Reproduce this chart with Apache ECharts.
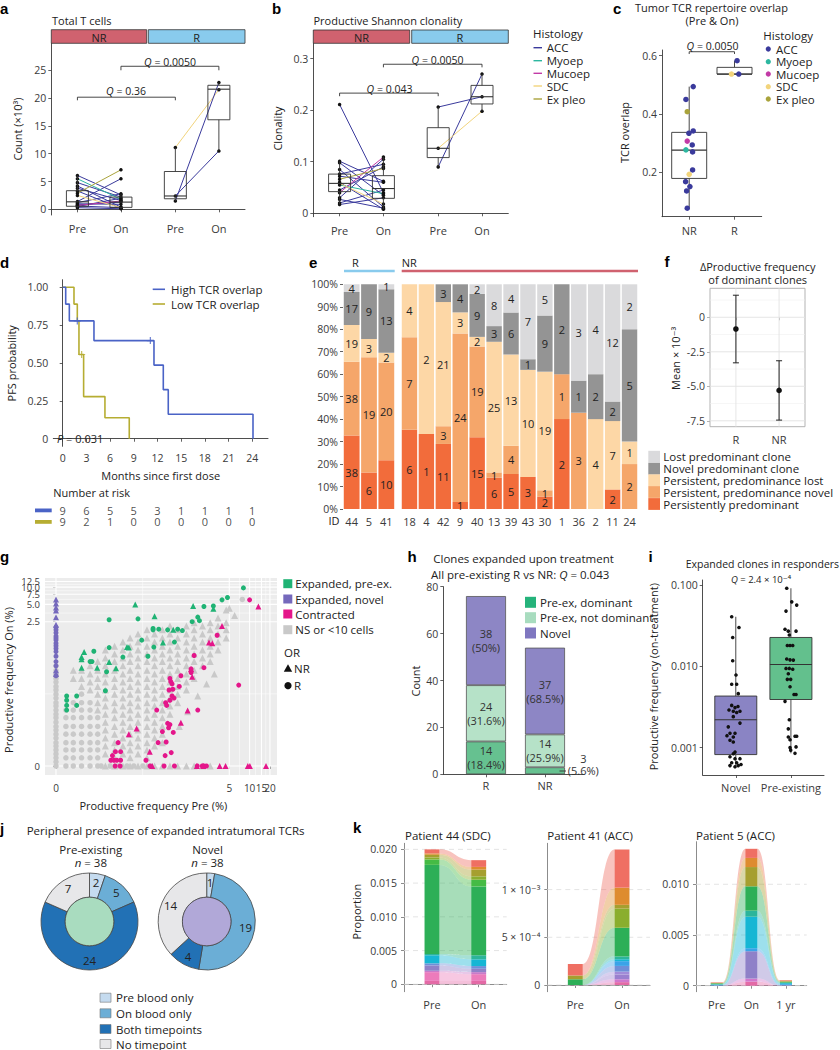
<!DOCTYPE html>
<html>
<head>
<meta charset="utf-8">
<title>Tumor TCR repertoire figure</title>
<script src="https://cdn.jsdelivr.net/npm/echarts@6.0.0/dist/echarts.min.js"></script>
<style>
html,body{margin:0;padding:0;background:#fff;}
#chart{width:840px;height:1050px;}
</style>
</head>
<body>
<div id="chart"></div>
<script>
// ======================= DATA =======================
const histologyNames = ['ACC', 'Myoep', 'Mucoep', 'SDC', 'Ex pleo'];

// --- a: Total T cells (count x10^3), pairs [histology, Pre, On]
const aTimepoints = ['Pre', 'On', 'Pre', 'On'];
const aTickValues = [0, 5, 10, 15, 20, 25];
const aPairsNR = [['ACC',6.1,2.6],['ACC',4.8,2.2],['ACC',4.2,0.4],['ACC',3.8,1.6],['ACC',3.3,0.2],['ACC',1.4,5.5],['ACC',1.2,2.8],['ACC',1.0,0.9],['ACC',0.8,1.3],['ACC',0.6,0.3],['ACC',0.5,2.0],['ACC',0.3,0.1],['Myoep',5.5,1.8],['Mucoep',0.7,1.5],['SDC',2.5,0.3],['Ex pleo',2.9,7.1]];
const aPairsR = [['SDC',11.1,21.5],['ACC',1.5,22.8],['ACC',2.4,10.5]];
const aBoxPreNR = [0.3,0.55,1.35,3.35,6.1];
const aBoxOnNR = [0.1,0.35,1.3,2.2,2.8];
const aBoxPreR = [1.5,1.9,2.4,6.8,11.1];
const aBoxOnR = [10.5,16.1,21.6,22.3,22.8];
const aQ = ['0.36', '0.0050'];

// --- b: Productive Shannon clonality
const bTickValues = [0, 0.1, 0.2, 0.3];
const bPairsNR = [['ACC',0.211,0.040],['ACC',0.101,0.062],['ACC',0.098,0.035],['ACC',0.085,0.012],['ACC',0.076,0.095],['ACC',0.072,0.060],['ACC',0.060,0.008],['ACC',0.045,0.090],['ACC',0.030,0.105],['ACC',0.027,0.010],['ACC',0.020,0.045],['ACC',0.017,0.030],['Myoep',0.055,0.038],['Mucoep',0.040,0.109],['SDC',0.058,0.018],['Ex pleo',0.066,0.087]];
const bPairsR = [['ACC',0.206,0.226],['ACC',0.090,0.270],['SDC',0.126,0.198]];
const bBoxPreNR = [0.017,0.042,0.058,0.076,0.101];
const bBoxOnNR = [0.008,0.029,0.048,0.073,0.109];
const bBoxPreR = [0.090,0.108,0.126,0.166,0.206];
const bBoxOnR = [0.198,0.212,0.226,0.248,0.270];
const bQ = ['0.043', '0.0050'];

// --- c: Tumor TCR repertoire overlap [group position incl. jitter, overlap, histology]
const cGroups = ['NR', 'R'];
const cTickValues = [0.2, 0.4, 0.6];
const cPoints = [[1.089,0.494,'ACC'],[0.928,0.450,'ACC'],[0.957,0.408,'Ex pleo'],[1.089,0.342,'ACC'],[0.994,0.334,'ACC'],[0.957,0.307,'Mucoep'],[1.067,0.294,'ACC'],[0.928,0.277,'Myoep'],[1.075,0.270,'ACC'],[1.075,0.208,'ACC'],[1.0,0.193,'SDC'],[0.921,0.168,'ACC'],[1.016,0.151,'ACC'],[0.943,0.136,'ACC'],[0.957,0.077,'ACC'],[2.057,0.583,'ACC'],[1.933,0.537,'SDC'],[2.094,0.537,'ACC']];
const cBoxNR = [0.077,0.179,0.276,0.337,0.494];
const cBoxR = [0.537,0.537,0.537,0.560,0.583];
const cQ = '0.0050';

// --- d: Kaplan-Meier PFS
const dTimes = [0,3,6,9,12,15,18,21,24];
const dHigh = [[0,1],[0.38,0.889],[0.84,0.778],[3.96,0.648],[11.56,0.486],[12.74,0.324],[13.37,0.162],[24.1,0]];
const dLow = [[0,1],[1.43,0.889],[1.85,0.778],[2.06,0.556],[2.65,0.278],[5.35,0.139],[8.43,0]];
const dHighCensor = [[1.85,0.778],[11.1,0.648]];
const dLowCensor = [[2.4,0.556]];
const dRiskHigh = [9,6,5,5,3,1,1,1,1];
const dRiskLow = [9,2,1,0,0,0,0,0,0];
const dYTicks = [0,0.25,0.5,0.75,1];

// --- e: clone categories per patient (counts)
const eNames = ['Persistently predominant','Persistent, predominance novel','Persistent, predominance lost','Novel predominant clone','Lost predominant clone'];
const eIdsR = ['44','5','41'];
const eIdsNR = ['18','4','42','9','40','13','39','43','30','1','36','2','11','24'];
const ePP_R = [38,6,10];  const ePN_R = [38,19,20]; const ePL_R = [19,3,2]; const eNP_R = [17,9,13]; const eLP_R = [4,0,1];
const ePP_NR = [6,1,11,1,15,6,5,3,2,2,0,0,2,0];
const ePN_NR = [7,0,3,24,19,1,4,0,1,1,3,0,0,2];
const ePL_NR = [4,2,21,3,2,25,13,10,19,0,0,4,7,1];
const eNP_NR = [0,0,3,4,9,3,6,1,9,2,1,2,2,5];
const eLP_NR = [0,0,0,0,2,8,4,7,5,0,3,4,12,2];

// --- f: delta productive frequency of dominant clones (mean x10^-3)
const fGroups = ['R','NR'];
const fMean = [-0.85,-5.3];
const fLow = [-3.3,-7.45];
const fHigh = [1.6,-3.15];
const fTicks = [-7.5,-5,-2.5,0];

// --- g: productive frequency Pre vs On (%)
const gXTicks = [0,5,10,15,20];
const gYTicks = [0,2.5,5,7.5,10,12.5];
const gGrayNRCols = [[0.011,[0.25,0.35]],[0.019,[0.18,0.25,0.35]],[0.03,[0.155,0.216,0.3,0.42]],
 [0.043,[0.065,0.09,0.13,0.18,0.25,0.35,0.5]],
 [0.06,[0.0048,0.0095,0.016,0.025,0.037,0.054,0.078,0.11,0.155,0.216,0.3,0.42,0.58,0.8]],
 [0.087,[0.003,0.007,0.012,0.02,0.03,0.046,0.065,0.09,0.13,0.18,0.25,0.35,0.5,0.68,0.93]],
 [0.12,[0.0048,0.0095,0.016,0.025,0.037,0.054,0.078,0.11,0.155,0.216,0.3,0.42,0.58,0.8,1.1]],
 [0.157,[0.003,0.007,0.012,0.02,0.03,0.046,0.065,0.09,0.13,0.18,0.25,0.35,0.5,0.68,0.93,1.3]],
 [0.21,[0.0048,0.0095,0.016,0.025,0.037,0.054,0.078,0.11,0.155,0.216,0.3,0.42,0.58,0.8,1.1,1.52]],
 [0.29,[0.003,0.007,0.012,0.02,0.03,0.046,0.065,0.09,0.13,0.18,0.25,0.35,0.5,0.68,0.93,1.3,1.8]],
 [0.38,[0.0095,0.016,0.025,0.037,0.054,0.078,0.11,0.155,0.216,0.3,0.42,0.58,0.8,1.1,1.52]],
 [0.5,[0.012,0.02,0.03,0.046,0.065,0.09,0.13,0.18,0.25,0.35,0.5,0.68,0.93,1.3,1.8]],
 [0.65,[0.054,0.078,0.11,0.155,0.216,0.3,0.42,0.58,0.8,1.1,1.52,2.1]],
 [0.85,[0.09,0.13,0.18,0.25,0.35,0.5,0.68,0.93,1.3,1.8]],
 [1.15,[0.155,0.216,0.3,0.42,0.58,0.8,1.1,1.52,2.1]],
 [1.5,[0.25,0.35,0.5,0.68,0.93,1.3,1.8,2.4]],
 [2.0,[0.42,0.58,0.8,1.1,1.52,2.1]],
 [2.6,[0.5,0.68,0.93,1.3,1.8,2.4]],
 [3.4,[0.8,1.1,1.52,2.1,2.9]],
 [4.5,[1.3,1.8,2.4,4.0]],
 [6.0,[3.2]],[5.0,[4.3]],[3.0,[0.3]],[2.3,[0.2]],[1.7,[0.12]],[1.2,[0.06]],[0.9,[0.03]]];
const gGrayNRZero = [0.06,0.087,0.12,0.157,0.21,0.29,0.38,0.5,0.65,0.85,1.15,1.5,2.0,2.6];
const gGrayRCols = [[0,[0,0.0014,0.003,0.0048,0.007,0.0095,0.012,0.016,0.02,0.025,0.03,0.037,0.046,0.054,0.065,0.078,0.09,0.11,0.13,0.155,0.18,0.216,0.25,0.3,0.35,0.42]],
 [0.0055,[0,0.003,0.007,0.012,0.02,0.03,0.046,0.065]],
 [0.011,[0,0.003,0.007,0.012,0.02,0.03,0.046,0.065,0.09]],
 [0.019,[0,0.003,0.007,0.012,0.02,0.03,0.046,0.065,0.09,0.13]],
 [0.03,[0,0.003,0.007,0.012,0.02,0.03,0.046,0.065,0.09]],
 [0.043,[0,0.003,0.007,0.012,0.02,0.03,0.046]],
 [7.8,[6.1]]];
const gGrayRZero = [0.05,0.073,0.1,0.14,0.18,0.25,0.33];
const gGreenR = [[8.1,9.7],[4.7,6.6],[3.9,6.0],[2.9,4.7],[2.1,4.6],[0.07,2.7],[0.21,2.8],[1.4,2.5],[1.7,3.0],[1.8,2.6],[0.36,1.9],[0.36,1.8],[0.44,1.85],[0.6,1.8],[0.85,1.85],[1.0,1.75],[0.76,1.1],[0.37,0.9],[0.24,1.19],[0.07,0.88],[0.12,0.6],[0.30,0.62],[0.036,0.76],[0.03,0.5],[0.033,0.5],[0.063,0.33],[0.06,0.15],[0.006,0.12],[0.006,0.1],[0.006,0.08],[0.006,0.065],[0.014,0.12],[0.014,0.08]];
const gGreenNR = [[2.9,4.2],[1.45,4.7],[0.19,5.0],[0.38,3.1],[0.73,1.8],[0.51,1.08],[0.14,0.9],[0.15,0.88],[0.022,0.74],[0.019,0.6],[0.019,0.55],[0.019,0.39],[0.042,0.39],[0.07,0.49],[0.092,0.38]];
const gPurpleNR = [[0,6.1],[0,5.2],[0,4.4],[0,3.9],[0,3.0],[0,2.2],[0,0.35],[0,0.3]];
const gPurpleR = [[0,2.0],[0,1.8],[0,1.6],[0,1.4],[0,1.3],[0,1.2],[0,1.05],[0,0.95],[0,0.85],[0,0.75],[0,0.62],[0,0.5],[0,0.42],[0,0.28]];
const gPinkR = [[10,6.0],[6.9,0.19],[3.3,1.45],[1.5,0.64],[2.1,0.39],[1.35,0.32],[1.35,0.37],[0.95,0.28],[0.9,0.18],[0.65,0.25],[0.67,0.22],[0.7,0.2],[0.72,0.16],[0.63,0.155],[0.7,0.12],[0.75,0.11],[0.65,0.1],[0.56,0.09],[0.58,0.08],[1.7,0.065],[0.41,0.065],[0.6,0.035],[0.65,0.033],[0.62,0.028],[0.73,0.022],[0.5,0.023],[0.43,0.012],[0.57,0.0125],[0.68,0.0055],[0.1,0.012],[0.09,0.006],[0.11,0.006],[0.08,0.004],[0.075,0.002],[0.085,0.002],[0.095,0.002],[0.11,0.002],[0.28,0.002],[0.55,0.004],[0.089,0],[0.108,0],[0.323,0],[0.53,0],[0.76,0],[1.67,0],[1.98,0],[2.1,0],[2.29,0]];
const gPinkNR = [[13.5,4.6],[3.9,2.1],[2.5,1.08],[2.8,1.05],[1.35,0.37],[1.4,0.27],[1.2,0.064],[0.95,0.036],[0.32,0.006],[0.15,0.02],[0.2,0.027],[0.35,0],[1.65,0],[2.05,0],[3.6,0],[4.4,0],[9.4,0],[10.1,0],[17.5,0]];

// --- h: clones expanded upon treatment
const hGroups = ['R','NR'];
const hPreExDominant = [14,3];
const hPreExNotDominant = [24,14];
const hNovel = [38,37];
const hQ = '0.043';

// --- i: expanded clones in responders [position incl. jitter, frequency]
const iGroups = ['Novel','Pre-existing'];
const iNovel = [[0.926,0.0406],[1.058,0.030],[0.944,0.0226],[0.944,0.0117],[1.004,0.0078],[0.926,0.006],[1.016,0.006],[1.045,0.0046],[0.926,0.0033],[1.04,0.0032],[0.986,0.0031],[1.076,0.0028],[0.955,0.0028],[1.016,0.0027],[0.877,0.0029],[0.955,0.0024],[1.076,0.0020],[0.864,0.0018],[0.895,0.0015],[0.986,0.0015],[0.84,0.0014],[0.955,0.00135],[0.895,0.00123],[0.955,0.00117],[0.986,0.00088],[0.955,0.00084],[0.895,0.00077],[0.986,0.00073],[1.076,0.00073],[0.926,0.00065],[1.016,0.00065],[1.095,0.00062],[1.045,0.0006],[0.895,0.0006],[0.986,0.00058]];
const iPreExisting = [[1.924,0.091],[2.015,0.062],[2.105,0.0565],[1.911,0.0477],[1.893,0.0285],[1.953,0.027],[2.093,0.027],[1.971,0.0242],[1.935,0.018],[1.984,0.018],[2.033,0.018],[1.924,0.0123],[1.984,0.012],[2.044,0.0119],[1.911,0.0094],[1.971,0.0094],[2.033,0.0092],[1.953,0.0081],[1.935,0.0069],[1.996,0.0069],[1.984,0.0056],[2.056,0.0045],[2.093,0.0045],[1.893,0.0037],[1.971,0.0022],[1.953,0.0017],[1.953,0.00135],[2.074,0.00138],[2.105,0.00138],[1.984,0.00125],[1.984,0.001],[2.093,0.00102],[1.996,0.00093],[2.074,0.00085]];
const iBoxNovel = [0.00059,0.00082,0.0022,0.0043,0.0406];
const iBoxPre = [0.00085,0.0039,0.0105,0.0226,0.091];
const iTicks = [0.001,0.01,0.1];

// --- j: peripheral presence
const jCats = ['Pre blood only','On blood only','Both timepoints','No timepoint'];
const jPreExisting = [2,5,24,7];
const jNovel = [1,19,4,14];

// --- k: clone proportions per timepoint, layers bottom -> top
const k44Times = ['Pre','On'];
const k44Layers = [[0.0005,0.0005],[0.0013,0.0010],[0.0002,0.0003],[0.0008,0.0005],[0.0003,0.0004],[0.0012,0.0010],[0.0002,0.0006],[0.0132,0.0102],[0.0008,0.0010],[0.0003,0.0005],[0.0004,0.0010],[0.0002,0.0004],[0.0006,0.0010]];
const k41Times = ['Pre','On'];
const k41Layers = [[0,0.00003],[0,0.00003],[0,0.00005],[0,0.00003],[0,0.00006],[0,0.00005],[0,0.00002],[0,0.00003],[0.00006,0.0003],[0,0.0002],[0.00004,0.00004],[0,0.00018],[0.00012,0.0004]];
const k5Times = ['Pre','On','1 yr'];
const k5Layers = [[0,0.0004,0],[0,0.0003,0],[0.00003,0.0027,0.00005],[0.00005,0.0003,0.0001],[0.00005,0.0031,0.0001],[0.00002,0.0006,0.00005],[0.00008,0.0024,0.0001],[0.00004,0.0019,0.00005],[0.00002,0.0009,0.00005],[0.00004,0.0009,0.00005]];

// ======================= STYLE =======================
const FONT = '"Open Sans", "DejaVu Sans", sans-serif';
const LETTER_FONT = '"Liberation Sans", Arial, sans-serif';
const HIST_COLOR = {'ACC':'#3a3a9c','Myoep':'#2db7a0','Mucoep':'#c23aa6','SDC':'#f2d47c','Ex pleo':'#a9a33b'};
const E_COLORS = ['#f26c3b','#f5a66a','#fdd7a6','#949494','#dadadc'];
const J_COLORS = ['#c5dbef','#6baed6','#2271b5','#e7e7e9'];
const K44_COLORS = ['#e46aa6','#ec7bbb','#c97ac9','#8f81c8','#6e8fd8','#16b6d4','#2cb59b','#2daf57','#45bb45','#8aae2e','#a69f2f','#de8c2f','#ef6f63'];
const K41_COLORS = ['#e46aa6','#d177cc','#9a80cf','#a28cd8','#6e8fd8','#3aa3e8','#16b6d4','#2cb59b','#2daf57','#8aae2e','#a69f2f','#de8c2f','#ef6f63'];
const K5_COLORS = ['#e46aa6','#d177cc','#8f81c8','#3aa3e8','#16b6d4','#2cb59b','#2daf57','#a69f2f','#de8c2f','#ef6f63'];
const LBL = '#3a3a3a';
const SLOT = [1, 2, 3.25, 4.25];

// ======================= BUILD =======================
const chart = echarts.init(document.getElementById('chart'), null, {renderer:'svg'});
const opt = {animation:false, backgroundColor:'#ffffff', textStyle:{fontFamily:FONT}, grid:[], xAxis:[], yAxis:[], series:[], graphic:{elements:[]}};
const G = opt.graphic.elements;

function T(x, y, text, o) {
  o = o || {};
  const size = o.size || 11;
  const el = {type:'text', x:x, y:y, silent:true, z:50, style:{text:text, fill:o.color || '#222',
    font:(o.italic ? 'italic ' : 'normal ') + (o.weight || 'normal') + ' ' + size + 'px ' + (o.family || FONT),
    align:o.align || 'left', verticalAlign:o.va || 'middle', textAlign:o.align || 'left', textVerticalAlign:o.va || 'middle'}};
  if (o.rot) el.rotation = o.rot;
  if (o.rich) el.style.rich = o.rich;
  G.push(el);
}
function richQ(size) { return {i:{fontStyle:'italic', fontSize:size, fontFamily:FONT, fill:'#222', color:'#222'}, n:{fontSize:size, fontFamily:FONT, fill:'#222', color:'#222'}}; }
function RECT(x, y, w, h, fill, stroke, lw) { G.push({type:'rect', silent:true, z:50, shape:{x:x, y:y, width:w, height:h}, style:{fill:fill, stroke:stroke || null, lineWidth:lw || 0}}); }
function LINE(x1, y1, x2, y2, stroke, lw) { G.push({type:'line', silent:true, z:50, shape:{x1:x1, y1:y1, x2:x2, y2:y2}, style:{stroke:stroke, lineWidth:lw}}); }
function DOT(cx, cy, r, fill) { G.push({type:'circle', silent:true, z:50, shape:{cx:cx, cy:cy, r:r}, style:{fill:fill}}); }
function TRI(cx, cy, s, fill) { G.push({type:'polygon', silent:true, z:50, shape:{points:[[cx, cy - s], [cx + s * 1.05, cy + s * 0.85], [cx - s * 1.05, cy + s * 0.85]]}, style:{fill:fill}}); }
function letter(x, y, s) { T(x, y, s, {size:15, weight:'bold', family:LETTER_FONT, color:'#000'}); }

function addGrid(l, t, r, b, extra) { opt.grid.push(Object.assign({left:l, top:t, width:r - l, height:b - t, containLabel:false}, extra || {})); return opt.grid.length - 1; }
function axis(gi, o) {
  const base = {gridIndex:gi, type:'value',
    axisLine:{show:false, lineStyle:{color:'#3a3a3a', width:0.9}},
    axisTick:{show:false, length:3, lineStyle:{color:'#3a3a3a', width:0.8}},
    axisLabel:{show:false, color:LBL, fontSize:10.5, fontFamily:FONT, hideOverlap:false},
    splitLine:{show:false}};
  Object.keys(o).forEach(k => {
    if (base[k] && typeof base[k] === 'object' && !Array.isArray(base[k]) && o[k] && typeof o[k] === 'object' && !Array.isArray(o[k])) base[k] = Object.assign({}, base[k], o[k]);
    else base[k] = o[k];
  });
  return base;
}
function addX(gi, o) { opt.xAxis.push(axis(gi, o)); return opt.xAxis.length - 1; }
function addY(gi, o) { opt.yAxis.push(axis(gi, o)); return opt.yAxis.length - 1; }
function nearestName(v, positions, names) { let b = 0; positions.forEach((p, i) => { if (Math.abs(p - v) < Math.abs(positions[b] - v)) b = i; }); return names[b]; }

function pairLine(xi, yi, data, color) {
  return {type:'line', xAxisIndex:xi, yAxisIndex:yi, data:data, z:3, silent:true, symbol:'circle', symbolSize:3.5, showSymbol:true,
    itemStyle:{color:'#111'}, lineStyle:{color:color, width:1}, emphasis:{disabled:true}};
}
function boxSeries(xi, yi, rows, w, fill, stroke, z) {
  return {type:'custom', xAxisIndex:xi, yAxisIndex:yi, silent:true, z:z || 4,
    dimensions:['x','lo','q1','med','q3','hi'], encode:{x:0, y:[1,2,3,4,5]}, data:rows,
    renderItem:function (params, api) {
      const x = api.value(0);
      const pLo = api.coord([x, api.value(1)]), pQ1 = api.coord([x, api.value(2)]), pMd = api.coord([x, api.value(3)]), pQ3 = api.coord([x, api.value(4)]), pHi = api.coord([x, api.value(5)]);
      const cx = pMd[0], h = w / 2;
      return {type:'group', children:[
        {type:'line', shape:{x1:cx, y1:pHi[1], x2:cx, y2:pQ3[1]}, style:{stroke:stroke, lineWidth:0.9}},
        {type:'line', shape:{x1:cx, y1:pQ1[1], x2:cx, y2:pLo[1]}, style:{stroke:stroke, lineWidth:0.9}},
        {type:'rect', shape:{x:cx - h, y:pQ3[1], width:w, height:Math.max(0.5, pQ1[1] - pQ3[1])}, style:{fill:fill, stroke:stroke, lineWidth:0.9}},
        {type:'line', shape:{x1:cx - h, y1:pMd[1], x2:cx + h, y2:pMd[1]}, style:{stroke:stroke, lineWidth:1.1}}
      ]};
    }};
}
function bracket(xi, yi, x1, x2, y, yEnd) {
  return {type:'line', xAxisIndex:xi, yAxisIndex:yi, data:[[x1, yEnd], [x1, y], [x2, y], [x2, yEnd]], symbol:'none', silent:true, z:5, lineStyle:{color:'#333', width:0.9}, emphasis:{disabled:true}};
}
function scatter(xi, yi, data, color, symbol, size, z) {
  return {type:'scatter', xAxisIndex:xi, yAxisIndex:yi, data:data, symbol:symbol || 'circle', symbolSize:size || 5, itemStyle:{color:color, opacity:1}, silent:true, z:z || 5, emphasis:{disabled:true}};
}
function gridLines(xi, yi, xr, yr, xs, ys, style) {
  return {type:'custom', xAxisIndex:xi, yAxisIndex:yi, silent:true, z:1, data:[[xr[0], yr[0]]],
    renderItem:function (params, api) {
      const ch = [];
      xs.forEach(v => { const a = api.coord([v, yr[0]]), b = api.coord([v, yr[1]]); ch.push({type:'line', shape:{x1:a[0], y1:a[1], x2:b[0], y2:b[1]}, style:style}); });
      ys.forEach(v => { const a = api.coord([xr[0], v]), b = api.coord([xr[1], v]); ch.push({type:'line', shape:{x1:a[0], y1:a[1], x2:b[0], y2:b[1]}, style:style}); });
      return {type:'group', children:ch};
    }};
}

// ---------------- Panel a ----------------
letter(0, 8.5, 'a');
T(52, 20.5, 'Total T cells', {size:11});
RECT(51.3, 29.7, 95.4, 13.6, '#d0626f', '#333', 0.8); T(99, 37, 'NR', {align:'center', size:11});
RECT(148.3, 29.7, 96.7, 13.6, '#89cbed', '#333', 0.8); T(196.7, 37, 'R', {align:'center', size:11});
const gA = addGrid(51.3, 43.3, 245, 215);
const xA = addX(gA, {min:0.4, max:4.85, axisLine:{show:true}, axisTick:{show:true, customValues:SLOT}, axisLabel:{show:true, customValues:SLOT, margin:8, fontSize:11, formatter:v => nearestName(v, SLOT, aTimepoints)}});
const yA = addY(gA, {min:-1.02, max:29.85, axisLine:{show:true}, axisTick:{show:true, customValues:aTickValues}, axisLabel:{show:true, customValues:aTickValues, margin:5}});
aPairsNR.forEach(p => opt.series.push(pairLine(xA, yA, [[SLOT[0], p[1]], [SLOT[1], p[2]]], HIST_COLOR[p[0]])));
aPairsR.forEach(p => opt.series.push(pairLine(xA, yA, [[SLOT[2], p[1]], [SLOT[3], p[2]]], HIST_COLOR[p[0]])));
opt.series.push(boxSeries(xA, yA, [[SLOT[0]].concat(aBoxPreNR), [SLOT[1]].concat(aBoxOnNR), [SLOT[2]].concat(aBoxPreR), [SLOT[3]].concat(aBoxOnR)], 22, 'rgba(255,255,255,0)', '#333'));
opt.series.push(bracket(xA, yA, SLOT[0], SLOT[2], 20.16, 19.6));
opt.series.push(bracket(xA, yA, SLOT[1], SLOT[3], 25.72, 25.0));
T(126, 90.5, '{i|Q}{n| = ' + aQ[0] + '}', {align:'center', rich:richQ(10.5)});
T(170, 61.5, '{i|Q}{n| = ' + aQ[1] + '}', {align:'center', rich:richQ(10.5)});
T(17.5, 129, 'Count (×10³)', {align:'center', rot:Math.PI / 2, size:11});

// ---------------- Panel b ----------------
letter(272, 8.5, 'b');
T(313.5, 20.5, 'Productive Shannon clonality', {size:11});
RECT(313.3, 30, 96.4, 13.3, '#d0626f', '#333', 0.8); T(361.5, 37, 'NR', {align:'center', size:11});
RECT(411.7, 30, 96.6, 13.3, '#89cbed', '#333', 0.8); T(460, 37, 'R', {align:'center', size:11});
const gB = addGrid(313.3, 43.3, 508.3, 216.7);
const xB = addX(gB, {min:0.4, max:4.85, axisLine:{show:true}, axisTick:{show:true, customValues:SLOT}, axisLabel:{show:true, customValues:SLOT, margin:8, fontSize:11, formatter:v => nearestName(v, SLOT, aTimepoints)}});
const yB = addY(gB, {min:-0.0066, max:0.3296, axisLine:{show:true}, axisTick:{show:true, customValues:bTickValues}, axisLabel:{show:true, customValues:bTickValues, margin:5, formatter:v => v === 0 ? '0' : String(v)}});
bPairsNR.forEach(p => opt.series.push(pairLine(xB, yB, [[SLOT[0], p[1]], [SLOT[1], p[2]]], HIST_COLOR[p[0]])));
bPairsR.forEach(p => opt.series.push(pairLine(xB, yB, [[SLOT[2], p[1]], [SLOT[3], p[2]]], HIST_COLOR[p[0]])));
opt.series.push(boxSeries(xB, yB, [[SLOT[0]].concat(bBoxPreNR), [SLOT[1]].concat(bBoxOnNR), [SLOT[2]].concat(bBoxPreR), [SLOT[3]].concat(bBoxOnR)], 22, 'rgba(255,255,255,0)', '#333'));
opt.series.push(bracket(xB, yB, SLOT[0], SLOT[2], 0.233, 0.227));
opt.series.push(bracket(xB, yB, SLOT[1], SLOT[3], 0.289, 0.283));
T(389.5, 88.5, '{i|Q}{n| = ' + bQ[0] + '}', {align:'center', rich:richQ(10.5)});
T(437.5, 59.5, '{i|Q}{n| = ' + bQ[1] + '}', {align:'center', rich:richQ(10.5)});
T(277.5, 128.5, 'Clonality', {align:'center', rot:Math.PI / 2, size:11});
T(533, 33.5, 'Histology', {size:11.5});
histologyNames.forEach((h, i) => { const y = [47.7, 60.7, 73.3, 86, 99][i]; LINE(533.5, y, 542, y, HIST_COLOR[h], 1.4); T(546.7, y, h, {size:11.5}); });

// ---------------- Panel c ----------------
letter(613, 8, 'c');
T(711.5, 7.5, 'Tumor TCR repertoire overlap', {align:'center', size:11});
T(712, 20.5, '(Pre & On)', {align:'center', size:11});
const gC = addGrid(662, 50, 761.7, 216.7);
const xC = addX(gC, {min:0.4, max:2.6, axisLine:{show:true}, axisTick:{show:true, customValues:[1, 2]}, axisLabel:{show:true, customValues:[1, 2], margin:8, fontSize:11, formatter:v => nearestName(v, [1, 2], cGroups)}});
const yC = addY(gC, {min:0.0477, max:0.6196, axisLine:{show:true}, axisTick:{show:true, customValues:cTickValues}, axisLabel:{show:true, customValues:cTickValues, margin:5, formatter:v => v.toFixed(1)}});
opt.series.push(boxSeries(xC, yC, [[1].concat(cBoxNR), [2].concat(cBoxR)], 35, '#ffffff', '#333', 3));
histologyNames.forEach(h => {
  const pts = cPoints.filter(p => p[2] === h).map(p => [p[0], p[1]]);
  if (pts.length) opt.series.push(scatter(xC, yC, pts, HIST_COLOR[h], 'circle', 5.5, 6));
});
opt.series.push(bracket(xC, yC, 1, 2, 0.6137, 0.6058));
T(712.5, 45.8, '{i|Q}{n| = ' + cQ + '}', {align:'center', rich:richQ(10.5)});
T(624, 132.5, 'TCR overlap', {align:'center', rot:Math.PI / 2, size:11});
T(763.3, 35, 'Histology', {size:11.5});
histologyNames.forEach((h, i) => { const y = [49, 61.7, 74, 86.7, 99][i]; DOT(768.3, y, 2.6, HIST_COLOR[h]); T(776, y, h, {size:11.5}); });

// ---------------- Panel d ----------------
letter(0, 262, 'd');
const gD = addGrid(53.3, 279.7, 268, 446.3);
const xD = addX(gD, {min:-1.19, max:26, axisLine:{show:true}, axisTick:{show:true, customValues:dTimes}, axisLabel:{show:true, customValues:dTimes, margin:6}});
const yD = addY(gD, {min:-0.05, max:1.05, axisLine:{show:true}, axisTick:{show:true, customValues:dYTicks}, axisLabel:{show:true, customValues:dYTicks, margin:5, formatter:v => v === 0 ? '0' : v.toFixed(2)}});
const D_HIGH = '#4a63c6', D_LOW = '#b6ad32';
opt.series.push({type:'line', xAxisIndex:xD, yAxisIndex:yD, data:dHigh, step:'end', showSymbol:false, silent:true, z:4, lineStyle:{color:D_HIGH, width:1.6}, emphasis:{disabled:true}});
opt.series.push({type:'line', xAxisIndex:xD, yAxisIndex:yD, data:dLow, step:'end', showSymbol:false, silent:true, z:3, lineStyle:{color:D_LOW, width:1.6}, emphasis:{disabled:true}});
const PLUS = 'path://M5,0L5,10M0,5L10,5';
opt.series.push({type:'scatter', xAxisIndex:xD, yAxisIndex:yD, data:dHighCensor, symbol:PLUS, symbolSize:7, silent:true, z:5, itemStyle:{color:'transparent', borderColor:D_HIGH, borderWidth:1.2}});
opt.series.push({type:'scatter', xAxisIndex:xD, yAxisIndex:yD, data:dLowCensor, symbol:PLUS, symbolSize:7, silent:true, z:5, itemStyle:{color:'transparent', borderColor:D_LOW, borderWidth:1.2}});
LINE(152.7, 289.3, 165, 289.3, D_HIGH, 1.6); T(171, 289.3, 'High TCR overlap', {size:11.5});
LINE(152.7, 304, 165, 304, D_LOW, 1.6); T(171, 304, 'Low TCR overlap', {size:11.5});
T(57, 438.5, '{i|P}{n| = 0.031}', {rich:richQ(11)});
T(11.7, 363.3, 'PFS probability', {align:'center', rot:Math.PI / 2, size:11});
T(160.7, 475.8, 'Months since first dose', {align:'center', size:11});
T(53.3, 492.3, 'Number at risk', {size:11});
RECT(35, 508.5, 16.7, 3.8, D_HIGH); RECT(35, 520, 16.7, 3.8, D_LOW);
const gD2 = addGrid(53.3, 504.5, 268, 527.5);
const xD2 = addX(gD2, {min:-1.19, max:26});
const yD2 = addY(gD2, {type:'category', data:['Low', 'High']});
opt.series.push({type:'scatter', xAxisIndex:xD2, yAxisIndex:yD2, symbolSize:1, itemStyle:{color:'rgba(0,0,0,0)'}, silent:true,
  data:dTimes.map((t, i) => [t, 'High', dRiskHigh[i]]).concat(dTimes.map((t, i) => [t, 'Low', dRiskLow[i]])),
  label:{show:true, position:'inside', formatter:p => String(p.value[2]), fontSize:11, color:'#222', fontFamily:FONT}});

// ---------------- Panel e ----------------
letter(309, 262, 'e');
T(352, 262.8, 'R', {size:11}); LINE(344, 271, 394.7, 271, '#89cbed', 2.6);
T(401.7, 262.8, 'NR', {size:11}); LINE(401.7, 271, 638, 271, '#d0626f', 2.6);
T(339.5, 520.5, 'ID', {align:'right', size:11});
function eBars(gi, ids, layers, showY) {
  const xi = addX(gi, {type:'category', data:ids, axisLabel:{show:true, fontSize:11, margin:7, color:LBL}});
  const yi = addY(gi, showY ? {min:0, max:100, interval:10, axisTick:{show:true, length:3}, axisLabel:{show:true, margin:5, formatter:'{value}%', fontSize:10.5}} : {min:0, max:100});
  const totals = ids.map((_, i) => layers.reduce((s, l) => s + l[i], 0));
  layers.forEach((l, k) => {
    opt.series.push({type:'bar', xAxisIndex:xi, yAxisIndex:yi, stack:'e' + gi, name:eNames[k], barCategoryGap:'9%', silent:true,
      data:l.map((c, i) => c / totals[i] * 100), itemStyle:{color:E_COLORS[k]},
      label:{show:true, position:'inside', fontSize:11, color:'#222', fontFamily:FONT, formatter:p => l[p.dataIndex] > 0 ? String(l[p.dataIndex]) : ''},
      emphasis:{disabled:true}});
  });
}
const gER = addGrid(343, 284.3, 395, 509);
eBars(gER, eIdsR, [ePP_R, ePN_R, ePL_R, eNP_R, eLP_R], true);
const gENR = addGrid(401, 284.3, 638, 509);
eBars(gENR, eIdsNR, [ePP_NR, ePN_NR, ePL_NR, eNP_NR, eLP_NR], false);
[4, 3, 2, 1, 0].forEach((k, i) => { const y = [456.7, 468.7, 480.3, 492, 504][i]; RECT(648.3, y - 5.9, 11.7, 11.8, E_COLORS[k]); T(663.3, y, eNames[k], {size:11.5}); });

// ---------------- Panel f ----------------
letter(664.5, 261, 'f');
T(757.7, 266.7, 'ΔProductive frequency', {align:'center', size:11});
T(757.7, 279, 'of dominant clones', {align:'center', size:11});
const gF = addGrid(710, 288.3, 805, 426.7, {show:true, backgroundColor:'#fff', borderColor:'#b3b3b3', borderWidth:1});
const xF = addX(gF, {min:0.4, max:2.6, axisTick:{show:true, customValues:[1, 2], lineStyle:{color:'#b3b3b3'}}, axisLabel:{show:true, customValues:[1, 2], margin:7, fontSize:11, formatter:v => nearestName(v, [1, 2], fGroups)}});
const yF = addY(gF, {min:-7.928, max:2.101, axisTick:{show:true, customValues:fTicks, lineStyle:{color:'#b3b3b3'}}, axisLabel:{show:true, customValues:fTicks, margin:5, formatter:v => v === 0 ? '0' : v.toFixed(1)}});
opt.series.push(gridLines(xF, yF, [0.4, 2.6], [-7.928, 2.101], [], [-6.25, -3.75, -1.25, 1.25], {stroke:'#f0f0f0', lineWidth:0.6}));
opt.series.push(gridLines(xF, yF, [0.4, 2.6], [-7.928, 2.101], [1, 2], fTicks, {stroke:'#e2e2e2', lineWidth:0.9}));
opt.series.push({type:'custom', xAxisIndex:xF, yAxisIndex:yF, silent:true, z:5, dimensions:['x','m','lo','hi'], encode:{x:0, y:[1,2,3]},
  data:fMean.map((m, i) => [i + 1, m, fLow[i], fHigh[i]]),
  renderItem:function (params, api) {
    const x = api.value(0); const m = api.coord([x, api.value(1)]), lo = api.coord([x, api.value(2)]), hi = api.coord([x, api.value(3)]);
    const st = {stroke:'#222', lineWidth:1};
    return {type:'group', children:[
      {type:'line', shape:{x1:m[0], y1:lo[1], x2:m[0], y2:hi[1]}, style:st},
      {type:'line', shape:{x1:m[0] - 3, y1:lo[1], x2:m[0] + 3, y2:lo[1]}, style:st},
      {type:'line', shape:{x1:m[0] - 3, y1:hi[1], x2:m[0] + 3, y2:hi[1]}, style:st},
      {type:'circle', shape:{cx:m[0], cy:m[1], r:2.8}, style:{fill:'#111'}}]};
  }});
T(675, 358.3, 'Mean × 10⁻³', {align:'center', rot:Math.PI / 2, size:11});

// ---------------- Panel g ----------------
letter(0, 556, 'g');
const tX = x => Math.log10(1 + x / 0.0137), invX = u => 0.0137 * (Math.pow(10, u) - 1);
const tY = y => Math.log10(1 + y / 0.00775), invY = v => 0.00775 * (Math.pow(10, v) - 1);
const gXU = gXTicks.map(tX), gYU = gYTicks.map(tY);
const midsOf = a => a.slice(1).map((v, i) => (v + a[i]) / 2);
const gXRange = [-0.1627, 3.2692], gYRange = [-0.1565, 3.2696];
const fmtGX = u => String(Math.round(invX(u)));
const fmtGY = v => { const r = Math.round(invY(v) * 2) / 2; return r === 0 ? '0' : r.toFixed(1); };
const gG = addGrid(45, 578, 277, 775, {show:true, backgroundColor:'#ececec', borderWidth:0});
// tick labels are split across two axes of the same scale so that the crowded labels all stay visible
const xG = addX(gG, {min:gXRange[0], max:gXRange[1], position:'bottom', axisTick:{show:true, customValues:gXU, lineStyle:{color:'#555'}}, axisLabel:{show:true, customValues:gXU.filter((_, i) => i % 2 === 0), margin:8, fontSize:10, formatter:fmtGX}});
addX(gG, {min:gXRange[0], max:gXRange[1], position:'bottom', axisLabel:{show:true, customValues:gXU.filter((_, i) => i % 2 === 1), margin:8, fontSize:10, formatter:fmtGX}});
const yG = addY(gG, {min:gYRange[0], max:gYRange[1], position:'left', axisTick:{show:true, customValues:gYU, lineStyle:{color:'#555'}}, axisLabel:{show:true, customValues:gYU.filter((_, i) => i % 2 === 0), margin:5, fontSize:9.5, formatter:fmtGY}});
addY(gG, {min:gYRange[0], max:gYRange[1], position:'left', axisLabel:{show:true, customValues:gYU.filter((_, i) => i % 2 === 1), margin:5, fontSize:9.5, formatter:fmtGY}});
opt.series.push(gridLines(xG, yG, gXRange, gYRange, midsOf(gXU), midsOf(gYU), {stroke:'#ffffff', lineWidth:0.5}));
opt.series.push(gridLines(xG, yG, gXRange, gYRange, gXU, gYU, {stroke:'#ffffff', lineWidth:1.1}));
const tf = p => [tX(p[0]), tY(p[1])];
const expandCols = cols => cols.reduce((acc, c) => acc.concat(c[1].map(y => [c[0], y])), []);
const G_GRAY = '#c9c9c9', G_GREEN = '#1fb374', G_PURPLE = '#7569bc', G_PINK = '#e4168a';
opt.series.push(scatter(xG, yG, expandCols(gGrayRCols).concat(gGrayRZero.map(x => [x, 0])).map(tf), G_GRAY, 'circle', 5.5, 2));
opt.series.push(scatter(xG, yG, expandCols(gGrayNRCols).concat(gGrayNRZero.map(x => [x, 0])).map(tf), G_GRAY, 'triangle', 7, 2));
opt.series.push(scatter(xG, yG, gPurpleR.map(tf), G_PURPLE, 'circle', 5, 4));
opt.series.push(scatter(xG, yG, gPurpleNR.map(tf), G_PURPLE, 'triangle', 6, 4));
opt.series.push(scatter(xG, yG, gGreenR.map(tf), G_GREEN, 'circle', 5, 4));
opt.series.push(scatter(xG, yG, gGreenNR.map(tf), G_GREEN, 'triangle', 6, 4));
opt.series.push(scatter(xG, yG, gPinkR.map(tf), G_PINK, 'circle', 5, 4));
opt.series.push(scatter(xG, yG, gPinkNR.map(tf), G_PINK, 'triangle', 6, 4));
T(153.3, 805, 'Productive frequency Pre (%)', {align:'center', size:11});
T(8.3, 680, 'Productive frequency On (%)', {align:'center', rot:Math.PI / 2, size:11});
[['Expanded, pre-ex.', G_GREEN], ['Expanded, novel', G_PURPLE], ['Contracted', G_PINK], ['NS or <10 cells', G_GRAY]].forEach((it, i) => {
  const y = [583.7, 599, 614, 629.7][i]; RECT(283.3, y - 4.5, 9, 9, it[1]); T(295.3, y, it[0], {size:11.5});
});
T(284, 652.3, 'OR', {size:11.5});
TRI(288, 668.3, 4, '#111'); T(294, 668.3, 'NR', {size:11.5});
DOT(288, 685.7, 3.6, '#111'); T(294, 685.7, 'R', {size:11.5});

// ---------------- Panel h ----------------
letter(407.5, 556.5, 'h');
T(433.3, 558.3, 'Clones expanded upon treatment', {size:11.5});
T(431, 574.3, '{n|All pre-existing R vs NR: }{i|Q}{n| = ' + hQ + '}', {rich:richQ(11.5)});
const gH = addGrid(443.3, 586.7, 583.3, 774.3);
const xH = addX(gH, {min:0.276, max:2.65, axisLine:{show:true}, axisTick:{show:true, customValues:[1, 2]}, axisLabel:{show:true, customValues:[1, 2], margin:6, fontSize:11, formatter:v => nearestName(v, [1, 2], hGroups)}});
const yH = addY(gH, {min:0, max:80, interval:20, axisLine:{show:true}, axisTick:{show:true}, axisLabel:{show:true, margin:5}});
const gH2 = addGrid(456.5, 586.7, 574.5, 774.3);
const xH2 = addX(gH2, {type:'category', data:hGroups});
const yH2 = addY(gH2, {min:0, max:80});
const hTotals = hGroups.map((_, i) => hPreExDominant[i] + hPreExNotDominant[i] + hNovel[i]);
const pctStr = (v, t) => { const s = (v / t * 100).toFixed(1); return (s.endsWith('.0') ? s.slice(0, -2) : s) + '%'; };
const H_BAR = ['#66c190', '#b6e2c8', '#8d86c5'];
[hPreExDominant, hPreExNotDominant, hNovel].forEach((arr, k) => {
  opt.series.push({type:'bar', xAxisIndex:xH2, yAxisIndex:yH2, stack:'h', barWidth:40, silent:true, z:3,
    itemStyle:{color:H_BAR[k], borderColor:'#555', borderWidth:0.8},
    data:arr.map((v, i) => (k === 0 && i === 1) ? {value:v, label:{show:false}} : v),
    label:{show:true, position:'inside', fontSize:11, lineHeight:14, color:'#333', fontFamily:FONT, formatter:p => { const i = p.dataIndex; return arr[i] + '\n(' + pctStr(arr[i], hTotals[i]) + ')'; }},
    emphasis:{disabled:true}});
});
T(583.3, 758.7, String(hPreExDominant[1]), {align:'center', size:11, color:'#333'});
T(583.3, 770.5, '(' + pctStr(hPreExDominant[1], hTotals[1]) + ')', {align:'center', size:11, color:'#333'});
LINE(559.5, 771, 566, 771, '#333', 0.9);
T(415, 681, 'Count', {align:'center', rot:Math.PI / 2, size:11});
[['Pre-ex, dominant', '#25b37b'], ['Pre-ex, not dominant', '#a8dcbf'], ['Novel', '#7f77c0']].forEach((it, i) => {
  const y = [602.3, 617.7, 633][i]; RECT(525, y - 5.5, 11, 11, it[1]); T(540, y, it[0], {size:11.5});
});

// ---------------- Panel i ----------------
letter(648.5, 556, 'i');
T(685.7, 564, 'Expanded clones in responders', {size:10.5});
T(761, 579, '{i|Q}{n| = 2.4 × 10⁻⁴}', {align:'center', rich:richQ(9.5)});
const gI = addGrid(702.7, 580, 824, 775);
const xI = addX(gI, {min:0.4, max:2.6, axisLine:{show:true}, axisTick:{show:true, customValues:[1, 2]}, axisLabel:{show:true, customValues:[1, 2], margin:7, fontSize:11, formatter:v => nearestName(v, [1, 2], iGroups)}});
const yI = addY(gI, {type:'log', logBase:10, min:0.00046, max:0.115, axisLine:{show:true}, axisTick:{show:true, customValues:iTicks}, axisLabel:{show:true, customValues:iTicks, margin:5, formatter:v => Number(v).toFixed(3)}});
opt.series.push(boxSeries(xI, yI, [[1].concat(iBoxNovel)], 42, '#8a84c4', '#333', 3));
opt.series.push(boxSeries(xI, yI, [[2].concat(iBoxPre)], 42, '#63c08d', '#333', 3));
opt.series.push(scatter(xI, yI, iNovel, '#111', 'circle', 3.6, 6));
opt.series.push(scatter(xI, yI, iPreExisting, '#111', 'circle', 3.6, 6));
T(653.3, 676.7, 'Productive frequency (on-treatment)', {align:'center', rot:Math.PI / 2, size:11});

// ---------------- Panel j ----------------
letter(0, 828, 'j');
T(26.7, 830, 'Peripheral presence of expanded intratumoral TCRs', {size:11.5});
T(90.8, 849, 'Pre-existing', {align:'center', size:11.5});
T(90.8, 862.5, '{i|n}{n| = 38}', {align:'center', rich:richQ(11.5)});
T(207.5, 849, 'Novel', {align:'center', size:11.5});
T(207.5, 862.5, '{i|n}{n| = 38}', {align:'center', rich:richQ(11.5)});
function ring(center, values, innerColor) {
  opt.series.push({type:'pie', center:center, radius:[24.3, 48.5], startAngle:90, clockwise:true, silent:true, animation:false,
    data:jCats.map((n, i) => ({name:n, value:values[i], itemStyle:{color:J_COLORS[i]}})),
    label:{show:true, position:'inside', formatter:'{c}', fontSize:11.5, color:'#222', fontFamily:FONT}, labelLine:{show:false},
    itemStyle:{borderColor:'#444', borderWidth:0.8}, emphasis:{disabled:true}});
  opt.series.push({type:'pie', center:center, radius:[0, 24.3], silent:true, animation:false, data:[{name:'inner', value:1}],
    itemStyle:{color:innerColor, borderColor:'#444', borderWidth:0.8}, label:{show:false}, labelLine:{show:false}, emphasis:{disabled:true}});
}
ring([89.5, 921.5], jPreExisting, '#a9dcbf');
ring([206.7, 921.5], jNovel, '#b1a8d8');
jCats.forEach((n, i) => { const y = [997.7, 1013.3, 1029, 1044][i]; RECT(100, y - 4.5, 11, 9, J_COLORS[i], '#777', 0.6); T(116, y, n, {size:11.5}); });

// ---------------- Panel k ----------------
letter(353, 827, 'k');
function alluvial(gi, times, layers, colors, barW, ymin, ymax, yticks, yfmt, title, titleX) {
  const n = times.length;
  const pos = times.map((_, i) => i + 1);
  const xi = addX(gi, {min:0.4, max:n + 0.6, axisLine:{show:true, lineStyle:{color:'#8c8c8c'}}, axisTick:{show:true, customValues:pos, lineStyle:{color:'#8c8c8c'}}, axisLabel:{show:true, customValues:pos, margin:7, fontSize:11, formatter:v => nearestName(v, pos, times)}});
  const yi = addY(gi, {min:ymin, max:ymax, axisLine:{show:true, lineStyle:{color:'#8c8c8c'}}, axisTick:{show:true, customValues:yticks, lineStyle:{color:'#8c8c8c'}}, axisLabel:{show:true, customValues:yticks, margin:7, fontSize:10.5, formatter:yfmt}});
  opt.series.push(gridLines(xi, yi, [0.4, n + 0.6], [ymin, ymax], [], yticks, {stroke:'#dddddd', lineWidth:0.8, lineDash:[5, 4]}));
  const cum = new Array(n).fill(0), bot = [], top = [];
  layers.forEach(l => { bot.push(cum.slice()); l.forEach((v, t) => { cum[t] += v; }); top.push(cum.slice()); });
  const data = layers.map((l, i) => [i + 1, l[0]]);
  opt.series.push({type:'custom', xAxisIndex:xi, yAxisIndex:yi, silent:true, z:2, data:data,
    renderItem:function (params, api) {
      const li = params.dataIndex, ch = [];
      for (let t = 0; t < n - 1; t++) {
        const xa = t + 1 + barW / 2, xb = t + 2 - barW / 2;
        const a1 = api.coord([xa, top[li][t]]), a0 = api.coord([xa, bot[li][t]]), b1 = api.coord([xb, top[li][t + 1]]), b0 = api.coord([xb, bot[li][t + 1]]);
        const mx = (a1[0] + b1[0]) / 2;
        ch.push({type:'path', shape:{pathData:'M' + a1[0] + ' ' + a1[1] + ' C' + mx + ' ' + a1[1] + ' ' + mx + ' ' + b1[1] + ' ' + b1[0] + ' ' + b1[1] + ' L' + b0[0] + ' ' + b0[1] + ' C' + mx + ' ' + b0[1] + ' ' + mx + ' ' + a0[1] + ' ' + a0[0] + ' ' + a0[1] + ' Z'}, style:{fill:colors[li], opacity:0.42}});
      }
      return {type:'group', children:ch};
    }});
  opt.series.push({type:'custom', xAxisIndex:xi, yAxisIndex:yi, silent:true, z:3, data:data,
    renderItem:function (params, api) {
      const li = params.dataIndex, ch = [];
      for (let t = 0; t < n; t++) {
        if (top[li][t] - bot[li][t] <= 0) continue;
        const p1 = api.coord([t + 1 - barW / 2, top[li][t]]), p0 = api.coord([t + 1 + barW / 2, bot[li][t]]);
        ch.push({type:'rect', shape:{x:p1[0], y:p1[1], width:p0[0] - p1[0], height:p0[1] - p1[1]}, style:{fill:colors[li]}});
      }
      return {type:'group', children:ch};
    }});
  T(titleX, 835, title, {size:11.5});
}
const gK1 = addGrid(404, 843.3, 506.7, 991.7);
alluvial(gK1, k44Times, k44Layers, K44_COLORS, 0.32, -0.0011, 0.0209, [0, 0.005, 0.01, 0.015, 0.02], v => v === 0 ? '0' : v.toFixed(3), 'Patient 44 (SDC)', 405);
const gK2 = addGrid(547.3, 843.3, 650, 991.7);
alluvial(gK2, k41Times, k41Layers, K41_COLORS, 0.32, -0.0000702, 0.001485, [0, 0.0005, 0.001], v => v === 0 ? '0' : (v < 0.00075 ? '5 × 10⁻⁴' : '1 × 10⁻³'), 'Patient 41 (ACC)', 547.3);
const gK3 = addGrid(696, 841.7, 806.7, 991.7);
alluvial(gK3, k5Times, k5Layers, K5_COLORS, 0.35, -0.000592, 0.0142, [0, 0.005, 0.01], v => v === 0 ? '0' : v.toFixed(3), 'Patient 5 (ACC)', 696);
T(356.7, 911.7, 'Proportion', {align:'center', rot:Math.PI / 2, size:11});

chart.setOption(opt);
</script>
</body>
</html>
